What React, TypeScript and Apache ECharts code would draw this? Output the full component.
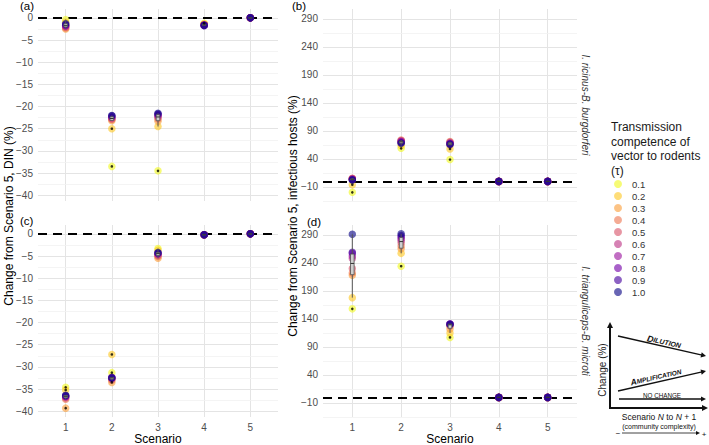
import React, { useEffect, useRef } from 'react';
import * as echarts from 'echarts';

// ---------- data ----------
const scenarios = [1, 2, 3, 4, 5];
const tauLabels = ['0.1', '0.2', '0.3', '0.4', '0.5', '0.6', '0.7', '0.8', '0.9', '1.0'];
const tauColors = ['#F0F921', '#FDC926', '#FA9E3B', '#ED7953', '#D8576B', '#BD3786', '#9C179E', '#7301A8', '#47039F', '#0D0887'];

// rows = tau 0.1 .. 1.0, columns = scenario 1 .. 5
const dinRicinus = [
  [-0.4, -33.5, -34.5, -1.2, 0],
  [-1.0, -25.0, -24.5, -1.4, 0],
  [-2.5, -23.2, -23.3, -1.5, 0],
  [-2.3, -22.9, -22.8, -1.5, 0],
  [-2.1, -22.8, -22.5, -1.6, 0],
  [-1.9, -22.6, -22.2, -1.6, 0],
  [-1.8, -22.4, -22.0, -1.6, 0],
  [-1.7, -22.3, -21.8, -1.7, 0],
  [-1.5, -22.1, -21.7, -1.7, 0],
  [-1.3, -22.0, -21.5, -1.7, 0],
];
const dinTrianguliceps = [
  [-34.6, -31.3, -3.3, -0.2, 0],
  [-35.2, -27.2, -3.7, -0.2, 0],
  [-39.3, -33.5, -5.5, -0.2, 0],
  [-37.3, -33.0, -5.1, -0.2, 0],
  [-37.0, -32.8, -4.9, -0.2, 0],
  [-36.8, -32.6, -4.7, -0.2, 0],
  [-36.7, -32.5, -4.5, -0.2, 0],
  [-36.6, -32.4, -4.4, -0.2, 0],
  [-36.5, -32.4, -4.3, -0.2, 0],
  [-36.4, -32.5, -4.2, -0.2, 0],
];
const hostsRicinus = [
  [-19.5, 59, 39, 0, 0],
  [-6, 64, 58, 0, 0],
  [4, 71, 65, 0, 0],
  [5.5, 74, 71, 0, 0],
  [5, 73, 70, 0, 0],
  [4.5, 72, 69, 0, 0],
  [4, 71, 68, 0, 0],
  [3.5, 70, 67, 0, 0],
  [3, 69, 66.5, 0, 0],
  [2.5, 68, 66, 0, 0],
];
const hostsTrianguliceps = [
  [158, 234, 107, 0, 0],
  [178, 257, 115, 0, 0],
  [218, 265, 122, 0, 0],
  [222, 270, 127, 0, 0],
  [230, 276, 129, 0, 0],
  [248, 280, 130, 0, 0],
  [252, 283, 131, 0, 0],
  [257, 286, 131, 0, 0],
  [259, 289, 131, 0, 0],
  [291, 292, 130, 0, 0],
];

const dinTicks = [-40, -35, -30, -25, -20, -15, -10, -5, 0];
const dinMinorTicks = [-37.5, -32.5, -27.5, -22.5, -17.5, -12.5, -7.5, -2.5];
const hostTicks = [-10, 40, 90, 140, 190, 240, 290];
const hostMinorTicks = [-35, 15, 65, 115, 165, 215, 265];

// ---------- helpers ----------
const FONT = "'Liberation Sans', Arial, Helvetica, sans-serif";
const MAJOR = '#e4e4e4';
const MINOR = '#f1f1f1';
const ALPHA = 0.78;

function rgba(hex: string, a: number) {
  const n = parseInt(hex.slice(1), 16);
  return `rgba(${(n >> 16) & 255},${(n >> 8) & 255},${n & 255},${a})`;
}
const fmt = (v: number) => (v < 0 ? '\u2212' + Math.abs(v) : String(v));
const near = (arr: number[], v: number) => arr.some((t) => Math.abs(t - v) < 1e-6);

function q7(s: number[], p: number) {
  const h = (s.length - 1) * p;
  const lo = Math.floor(h);
  const hi = Math.min(lo + 1, s.length - 1);
  return s[lo] + (h - lo) * (s[hi] - s[lo]);
}
function boxStats(values: number[]) {
  const s = [...values].sort((a, b) => a - b);
  const q1 = q7(s, 0.25), med = q7(s, 0.5), q3 = q7(s, 0.75);
  const iqr = q3 - q1;
  const lo = q1 - 1.5 * iqr - 1e-9, hi = q3 + 1.5 * iqr + 1e-9;
  const inside = s.filter((v) => v >= lo && v <= hi);
  return { min: inside[0], q1, med, q3, max: inside[inside.length - 1], outliers: s.filter((v) => v < lo || v > hi) };
}

function arrowHead(tx: number, ty: number, ang: number, len = 5, half = 2.6) {
  const c = Math.cos(ang), s = Math.sin(ang);
  return {
    type: 'polygon',
    shape: {
      points: [
        [tx, ty],
        [tx - len * c + half * s, ty - len * s - half * c],
        [tx - len * c - half * s, ty - len * s + half * c],
      ],
    },
    style: { fill: '#111' },
    z: 100,
  };
}
function arrow(x1: number, y1: number, x2: number, y2: number, w: number, len = 5, half = 2.6) {
  const ang = Math.atan2(y2 - y1, x2 - x1);
  return [
    { type: 'line', shape: { x1, y1, x2: x2 - (len - 1) * Math.cos(ang), y2: y2 - (len - 1) * Math.sin(ang) }, style: { stroke: '#111', lineWidth: w }, z: 100 },
    arrowHead(x2, y2, ang, len, half),
  ];
}
function txt(text: string, x: number, y: number, size: number, opts: any = {}) {
  const { rotation = 0, align = 'center', vAlign = 'middle', fill = '#000', italic = false, bold = false, lineHeight, rich } = opts;
  return {
    type: 'text',
    x, y, rotation,
    z: 100,
    style: {
      text, fill,
      fontSize: size, fontFamily: FONT,
      fontStyle: italic ? 'italic' : 'normal',
      fontWeight: bold ? 'bold' : 'normal',
      align, verticalAlign: vAlign,
      lineHeight, rich,
    },
  };
}

const panels = [
  { values: dinRicinus, kind: 'din', grid: { left: 38, top: 9, width: 240, height: 192 }, showX: false },
  { values: hostsRicinus, kind: 'hosts', grid: { left: 323, top: 9, width: 254, height: 192 }, showX: false },
  { values: dinTrianguliceps, kind: 'din', grid: { left: 38, top: 225, width: 240, height: 192 }, showX: true },
  { values: hostsTrianguliceps, kind: 'hosts', grid: { left: 323, top: 225, width: 254, height: 192 }, showX: true },
];

export default function App() {
  const ref = useRef<HTMLDivElement>(null);
  useEffect(() => {
    const chart = echarts.init(ref.current!, null, { renderer: 'svg' });

    const grid = panels.map((p) => ({ ...p.grid, containLabel: false }));
    const xAxis = panels.map((p, i) => ({
      gridIndex: i,
      type: 'value',
      min: 0.4,
      max: 5.6,
      minInterval: 1,
      maxInterval: 1,
      axisLine: { show: false },
      axisTick: { show: false },
      axisLabel: {
        show: p.showX,
        showMinLabel: false,
        showMaxLabel: false,
        formatter: (v: number) => (near(scenarios, v) ? String(v) : ''),
        color: '#4d4d4d',
        fontSize: 10,
        fontFamily: FONT,
        margin: 5,
      },
      splitLine: { show: true, showMinLine: false, showMaxLine: false, lineStyle: { color: MAJOR, width: 1 } },
    }));
    const yAxis = panels.map((p, i) =>
      p.kind === 'din'
        ? {
            gridIndex: i,
            type: 'value',
            min: -41.3,
            max: 2.0,
            minInterval: 5,
            maxInterval: 5,
            axisLine: { show: false },
            axisTick: { show: false },
            axisLabel: {
              showMinLabel: false,
              showMaxLabel: false,
              formatter: (v: number) => (near(dinTicks, v) ? fmt(v) : ''),
              color: '#4d4d4d', fontSize: 10, fontFamily: FONT, margin: 5,
            },
            splitLine: { show: true, showMinLine: false, showMaxLine: false, lineStyle: { color: MAJOR, width: 1 } },
          }
        : {
            gridIndex: i,
            type: 'value',
            min: -35,
            max: 307.6,
            interval: 25,
            axisLine: { show: false },
            axisTick: { show: false },
            axisLabel: {
              showMinLabel: false,
              showMaxLabel: false,
              formatter: (v: number) => (near(hostTicks, v) ? fmt(v) : ''),
              color: '#4d4d4d', fontSize: 10, fontFamily: FONT, margin: 5,
            },
            splitLine: { show: true, showMinLine: true, showMaxLine: false, lineStyle: { color: ['rgba(0,0,0,0)', MAJOR], width: 1 } },
          }
    );

    const series: any[] = [];
    panels.forEach((p, pi) => {
      const minor = p.kind === 'din' ? dinMinorTicks : hostMinorTicks;
      series.push({
        type: 'scatter', xAxisIndex: pi, yAxisIndex: pi, data: [], silent: true,
        markLine: {
          silent: true, symbol: ['none', 'none'], z: 1, animation: false,
          label: { show: false },
          lineStyle: { color: MINOR, width: 0.8, type: 'solid' },
          data: minor.map((v) => ({ yAxis: v })),
        },
      });
      series.push({
        type: 'scatter', xAxisIndex: pi, yAxisIndex: pi, data: [], silent: true,
        markLine: {
          silent: true, symbol: ['none', 'none'], z: 1.5, animation: false,
          label: { show: false },
          lineStyle: { color: '#000', width: 2, type: [9, 6] },
          data: [{ yAxis: 0 }],
        },
      });
      p.values.forEach((row, ti) => {
        series.push({
          name: tauLabels[ti],
          type: 'scatter',
          xAxisIndex: pi, yAxisIndex: pi,
          symbol: 'circle',
          symbolSize: 7.5,
          itemStyle: { color: rgba(tauColors[ti], ALPHA) },
          z: 2,
          data: scenarios.map((s, j) => [s, row[j]]),
        });
      });
      const stats = scenarios.map((s, j) => ({ s, st: boxStats(p.values.map((r) => r[j])) }));
      series.push({
        type: 'custom',
        xAxisIndex: pi, yAxisIndex: pi,
        z: 3,
        dimensions: ['x', 'min', 'q1', 'med', 'q3', 'max'],
        encode: { x: 'x', y: ['min', 'q1', 'med', 'q3', 'max'] },
        data: stats.map(({ s, st }) => [s, st.min, st.q1, st.med, st.q3, st.max]),
        renderItem: (params: any, api: any) => {
          const x = api.value(0);
          const pMin = api.coord([x, api.value(1)]);
          const pQ1 = api.coord([x, api.value(2)]);
          const pMed = api.coord([x, api.value(3)]);
          const pQ3 = api.coord([x, api.value(4)]);
          const pMax = api.coord([x, api.value(5)]);
          const w = 3.6;
          const ln = { stroke: '#555', lineWidth: 1 };
          return {
            type: 'group',
            children: [
              { type: 'line', shape: { x1: pMin[0], y1: pMin[1], x2: pQ1[0], y2: pQ1[1] }, style: ln },
              { type: 'line', shape: { x1: pQ3[0], y1: pQ3[1], x2: pMax[0], y2: pMax[1] }, style: ln },
              { type: 'rect', shape: { x: pQ3[0] - w / 2, y: pQ3[1], width: w, height: Math.max(pQ1[1] - pQ3[1], 0.01) }, style: { fill: '#cfcfcf', stroke: '#555', lineWidth: 0.8 } },
              { type: 'line', shape: { x1: pMed[0] - w / 2, y1: pMed[1], x2: pMed[0] + w / 2, y2: pMed[1] }, style: { stroke: '#333', lineWidth: 1 } },
            ],
          };
        },
      });
      series.push({
        type: 'scatter',
        xAxisIndex: pi, yAxisIndex: pi,
        symbol: 'circle', symbolSize: 2.6, z: 4,
        itemStyle: { color: '#000' },
        data: stats.flatMap(({ s, st }) => st.outliers.map((v) => [s, v])),
      });
    });

    const graphic: any[] = [
      // panel tags
      txt('(a)', 20, 5.5, 11.5, { align: 'left' }),
      txt('(b)', 292, 5.5, 11.5, { align: 'left' }),
      txt('(c)', 20, 221, 11.5, { align: 'left' }),
      txt('(d)', 307, 222, 11.5, { align: 'left' }),
      // axis titles
      txt('Change from Scenario 5, DIN (%)', 9, 216, 12, { rotation: Math.PI / 2 }),
      txt('Change from Scenario 5, infectious hosts (%)', 293, 216, 12, { rotation: Math.PI / 2 }),
      txt('Scenario', 158, 439, 12),
      txt('Scenario', 450, 439, 12),
      // strips
      txt('I. ricinus-B. burgdorferi', 585, 105, 10, { rotation: -Math.PI / 2, italic: true, fill: '#333' }),
      txt('I. trianguliceps-B. microti', 585, 321, 10, { rotation: -Math.PI / 2, italic: true, fill: '#333' }),
      // legend title
      txt('Transmission\ncompetence of\nvector to rodents\n(\u03c4)', 611, 120, 12, { align: 'left', vAlign: 'top', lineHeight: 14.5, fill: '#1a1a1a' }),
      // diagram axes
      ...arrow(610, 408, 610, 322, 2, 6, 3),
      ...arrow(609, 408, 708, 408, 2, 6, 3),
      ...arrow(618, 336, 706, 356, 1.3),
      ...arrow(618, 391, 706, 371, 1.3),
      ...arrow(619, 399, 706, 399, 1.3),
      ...arrow(622, 433, 700, 433, 0.8, 4, 2),
      txt('Change (%)', 602, 370, 10, { rotation: Math.PI / 2, fill: '#222' }),
      txt('{b|D}{s|ILUTION}', 664, 342, 8, {
        rotation: -0.22,
        rich: {
          b: { fontSize: 9, fontWeight: 'bold', fontStyle: 'italic', fontFamily: FONT, fill: '#111' },
          s: { fontSize: 7, fontWeight: 'bold', fontStyle: 'italic', fontFamily: FONT, fill: '#111' },
        },
      }),
      txt('{b|A}{s|MPLIFICATION}', 656, 377, 8, {
        rotation: 0.22,
        rich: {
          b: { fontSize: 8.5, fontWeight: 'bold', fontStyle: 'italic', fontFamily: FONT, fill: '#111' },
          s: { fontSize: 6.5, fontWeight: 'bold', fontStyle: 'italic', fontFamily: FONT, fill: '#111' },
        },
      }),
      txt('NO CHANGE', 662, 395, 6.3, { fill: '#111' }),
      txt('{n|Scenario }{i|N}{n| to }{i|N}{n| + 1}', 659, 417, 8.5, {
        fill: '#111',
        rich: {
          n: { fontSize: 8.5, fontFamily: FONT, fill: '#111' },
          i: { fontSize: 8.5, fontFamily: FONT, fontStyle: 'italic', fill: '#111' },
        },
      }),
      txt('(community complexity)', 659, 426.5, 7, { fill: '#111' }),
      txt('\u2212', 618, 433, 8, { fill: '#111' }),
      txt('+', 704, 434, 8, { fill: '#111' }),
    ];

    chart.setOption({
      animation: false,
      backgroundColor: '#fff',
      textStyle: { fontFamily: FONT },
      grid,
      xAxis,
      yAxis,
      legend: {
        data: tauLabels,
        orient: 'vertical',
        left: 614,
        top: 179,
        padding: 0,
        itemWidth: 8,
        itemHeight: 8,
        itemGap: 2,
        icon: 'circle',
        selectedMode: false,
        textStyle: { fontSize: 9.5, color: '#333', fontFamily: FONT, padding: [0, 0, 0, 5] },
      },
      series,
      graphic,
    });
    return () => chart.dispose();
  }, []);
  return <div ref={ref} style={{ position: 'fixed', left: 0, top: 0, width: 709, height: 445, background: '#fff' }} />;
}
